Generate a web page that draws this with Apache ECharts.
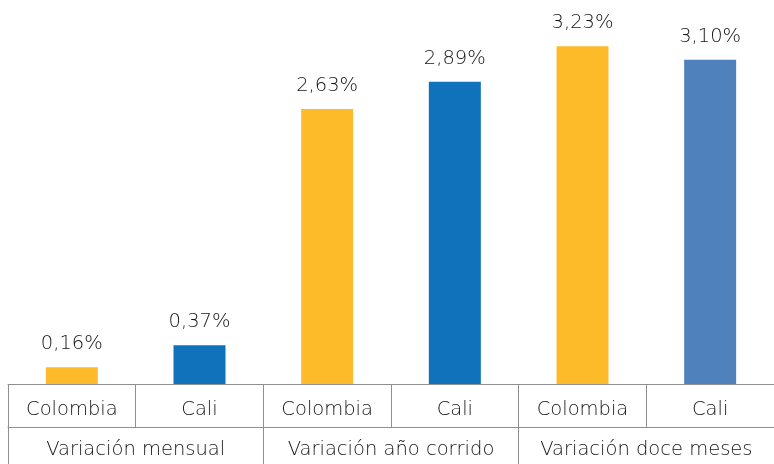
<!DOCTYPE html>
<html><head><meta charset="utf-8">
<script src="https://cdn.jsdelivr.net/npm/echarts@6/dist/echarts.min.js"></script>
<style>html,body{margin:0;padding:0;background:#fff}#c{width:774px;height:464px}</style>
</head><body><div id="c"></div>
<script>
const categories = ['Colombia','Cali','Colombia','Cali','Colombia','Cali'];
const groups = ['Variación mensual','Variación año corrido','Variación doce meses'];
const values = [0.16, 0.37, 2.63, 2.89, 3.23, 3.10];
const colors = ['#FDBB2A','#0F72BA','#FDBB2A','#0F72BA','#FDBB2A','#4F81BD'];

const font = 'DejaVu Sans';
const txt = {fontSize:19.5,color:'#141414',fontFamily:font,fontWeight:300};
const lineColor = '#8f8f8f';
const chart = echarts.init(document.getElementById('c'));
chart.setOption({
  animation:false,
  grid:{left:8,right:-5,top:18,bottom:80,containLabel:false},
  xAxis:[{
    type:'category',data:categories,position:'bottom',
    axisLine:{show:true,lineStyle:{color:lineColor,width:1}},
    axisTick:{show:true,interval:0,length:43,lineStyle:{color:lineColor,width:1}},
    axisLabel:Object.assign({interval:0,margin:16},txt)
  },{
    type:'category',data:groups,position:'bottom',offset:43,
    axisLine:{show:true,lineStyle:{color:lineColor,width:1}},
    axisTick:{show:true,interval:0,length:45,lineStyle:{color:lineColor,width:1}},
    axisLabel:Object.assign({interval:0,margin:13},txt)
  }],
  yAxis:{type:'value',min:0,max:3.5,show:false,splitLine:{show:false}},
  series:[{
    type:'bar',xAxisIndex:0,barWidth:52,
    data:values.map((v,i)=>({value:v,itemStyle:{color:colors[i]}})),
    label:Object.assign({show:true,position:'top',distance:13,
      formatter:p=>p.value.toFixed(2).replace('.',',')+'%'},txt)
  }]
});
</script></body></html>
